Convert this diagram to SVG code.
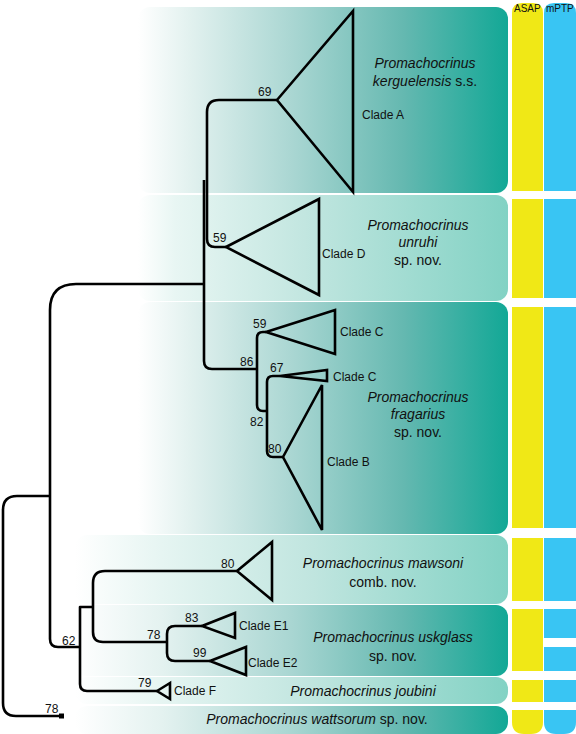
<svg xmlns="http://www.w3.org/2000/svg" width="576" height="734" viewBox="0 0 576 734">
<defs>
<linearGradient id="gDarkTop" gradientUnits="userSpaceOnUse" x1="138" y1="0" x2="508" y2="0">
<stop offset="0" stop-color="#ffffff"/>
<stop offset="0.12" stop-color="#e6f3f1"/>
<stop offset="0.42" stop-color="#a9d6d2"/>
<stop offset="0.72" stop-color="#64b8b0"/>
<stop offset="1" stop-color="#12a896"/>
</linearGradient>
<linearGradient id="gLightTop" gradientUnits="userSpaceOnUse" x1="138" y1="0" x2="508" y2="0">
<stop offset="0" stop-color="#ffffff"/>
<stop offset="0.1" stop-color="#e8f6f3"/>
<stop offset="0.45" stop-color="#c2e6e0"/>
<stop offset="1" stop-color="#82d2c4"/>
</linearGradient>
<linearGradient id="gDarkLow" gradientUnits="userSpaceOnUse" x1="75" y1="0" x2="508" y2="0">
<stop offset="0" stop-color="#ffffff"/>
<stop offset="0.2" stop-color="#e4f2f0"/>
<stop offset="0.5" stop-color="#a9d6d2"/>
<stop offset="0.76" stop-color="#64b8b0"/>
<stop offset="1" stop-color="#12a896"/>
</linearGradient>
<linearGradient id="gLightLow" gradientUnits="userSpaceOnUse" x1="75" y1="0" x2="508" y2="0">
<stop offset="0" stop-color="#ffffff"/>
<stop offset="0.2" stop-color="#e6f5f2"/>
<stop offset="0.55" stop-color="#c0e5df"/>
<stop offset="1" stop-color="#82d2c4"/>
</linearGradient>
</defs>
<style>
.sp{font-family:"Liberation Sans",Arial,sans-serif;font-size:14px;fill:#111;text-anchor:middle}
.it{font-style:italic}
.cl{font-family:"Liberation Sans",Arial,sans-serif;font-size:12px;fill:#111}
.bs{font-family:"Liberation Sans",Arial,sans-serif;font-size:12px;fill:#111}
.hd{font-family:"Liberation Sans",Arial,sans-serif;font-size:10px;fill:#111}
.br{fill:none;stroke:#000;stroke-width:2.6;stroke-linecap:butt;stroke-linejoin:round}
.tri{fill:none;stroke:#000;stroke-width:2.6;stroke-linejoin:miter}
.y{fill:#f0e816}
.b{fill:#39c5f3}
</style>

<g id="bands">
<g id="band-kerguelensis">
<rect x="138" y="7" width="370" height="186" rx="12" fill="url(#gDarkTop)"/>
<text class="sp it" x="425" y="68">Promachocrinus</text>
<text class="sp" x="425" y="86"><tspan class="it">kerguelensis</tspan> s.s.</text>
</g>
<g id="band-unruhi">
<rect x="138" y="195" width="370" height="106" rx="12" fill="url(#gLightTop)"/>
<text class="sp it" x="418" y="230">Promachocrinus</text>
<text class="sp it" x="418" y="247">unruhi</text>
<text class="sp" x="418" y="265">sp. nov.</text>
</g>
<g id="band-fragarius">
<rect x="138" y="302" width="370" height="232" rx="12" fill="url(#gDarkTop)"/>
<text class="sp it" x="418" y="402">Promachocrinus</text>
<text class="sp it" x="418" y="419">fragarius</text>
<text class="sp" x="418" y="437">sp. nov.</text>
</g>
<g id="band-mawsoni">
<rect x="75" y="535" width="433" height="69" rx="12" fill="url(#gLightLow)"/>
<text class="sp" x="383" y="568"><tspan class="it">Promachocrinus mawsoni</tspan></text>
<text class="sp" x="383" y="587">comb. nov.</text>
</g>
<g id="band-uskglass">
<rect x="75" y="605" width="433" height="71" rx="12" fill="url(#gDarkLow)"/>
<text class="sp" x="393" y="642"><tspan class="it">Promachocrinus uskglass</tspan></text>
<text class="sp" x="393" y="661">sp. nov.</text>
</g>
<g id="band-joubini">
<rect x="75" y="677" width="433" height="27" rx="12" fill="url(#gLightLow)"/>
<text class="sp it" x="363" y="696">Promachocrinus joubini</text>
</g>
<g id="band-wattsorum">
<rect x="75" y="706" width="433" height="28" rx="12" fill="url(#gDarkLow)"/>
<text class="sp" x="317" y="724"><tspan class="it">Promachocrinus wattsorum</tspan> sp. nov.</text>
</g>
</g>

<g id="delimitation">
<g id="asap">
<path class="y" d="M512 191 V13 Q512 3 522 3 H533 Q543 3 543 13 V191 Z"/>
<rect class="y" x="512" y="199" width="31" height="99"/>
<rect class="y" x="512" y="307" width="31" height="221"/>
<rect class="y" x="512" y="538" width="31" height="63"/>
<rect class="y" x="512" y="609" width="31" height="62"/>
<rect class="y" x="512" y="680" width="31" height="22"/>
<path class="y" d="M512 710 H543 V722 Q543 734 531 734 H524 Q512 734 512 722 Z"/>
<text class="hd" x="514" y="12">ASAP</text>
</g>
<g id="mptp">
<path class="b" d="M544 191 V13 Q544 3 554 3 H566 Q576 3 576 13 V191 Z"/>
<rect class="b" x="544" y="199" width="32" height="99"/>
<rect class="b" x="544" y="307" width="32" height="221"/>
<rect class="b" x="544" y="538" width="32" height="63"/>
<rect class="b" x="544" y="609" width="32" height="29"/>
<rect class="b" x="544" y="647" width="32" height="24"/>
<rect class="b" x="544" y="680" width="32" height="22"/>
<path class="b" d="M544 710 H576 V722 Q576 734 564 734 H556 Q544 734 544 722 Z"/>
<text class="hd" x="546" y="12">mPTP</text>
</g>
</g>

<g id="clades">
<g id="clade-A"><path class="tri" d="M277 100 L353 11 V192 Z"/><text class="cl" x="362" y="119">Clade A</text></g>
<g id="clade-D"><path class="tri" d="M226 247 L319 199 V295 Z"/><text class="cl" x="322" y="258">Clade D</text></g>
<g id="clade-C1"><path class="tri" d="M266 332 L335 310 V354 Z"/><text class="cl" x="340" y="336">Clade C</text></g>
<g id="clade-C2"><path class="tri" d="M280 376 L327 370 V381 Z"/><text class="cl" x="333" y="381">Clade C</text></g>
<g id="clade-B"><path class="tri" d="M283 457 L322 385 V530 Z"/><text class="cl" x="327" y="466">Clade B</text></g>
<g id="clade-mawsoni"><path class="tri" d="M237 571 L272 542 V600 Z"/></g>
<g id="clade-E1"><path class="tri" d="M202 626 L235 613 V638 Z"/><text class="cl" x="239" y="630">Clade E1</text></g>
<g id="clade-E2"><path class="tri" d="M210 661 L246 647 V675 Z"/><text class="cl" x="248" y="667">Clade E2</text></g>
<g id="clade-F"><path class="tri" d="M157 691 L170 683 V699 Z"/><text class="cl" x="174" y="695">Clade F</text></g>
<g id="tip-wattsorum"><rect x="59" y="713.5" width="5" height="5" fill="#000"/></g>
</g>

<g id="connectors">
<path class="br" d="M50 496 H17 Q3 496 3 510 V703 Q3 716 16 716 H60"/>
<path class="br" d="M204 284 H76 Q50 284 50 310 V639 Q50 647 58 647 H80"/>
<path class="br" d="M277 100 H219 Q207 100 207 112 V239 Q207 247 215 247 H226"/>
<path class="br" d="M204 180 V361 Q204 369 212 369 H257"/>
<path class="br" d="M266 332 H263 Q257 332 257 338 V405 Q257 411 263 411 H267"/>
<path class="br" d="M280 376 H273 Q267 376 267 382 V451 Q267 457 273 457 H283"/>
<path class="br" d="M93 607 H80 V684 Q80 691 87 691 H157"/>
<path class="br" d="M237 571 H105 Q93 571 93 583 V632 Q93 642 103 642 H167"/>
<path class="br" d="M202 626 H175 Q167 626 167 634 V653 Q167 661 175 661 H210"/>
</g>

<g id="support">
<text class="bs" x="258" y="96">69</text>
<text class="bs" x="213" y="242">59</text>
<text class="bs" x="240" y="366">86</text>
<text class="bs" x="253" y="328">59</text>
<text class="bs" x="270" y="372">67</text>
<text class="bs" x="250" y="426">82</text>
<text class="bs" x="268" y="453">80</text>
<text class="bs" x="221" y="568">80</text>
<text class="bs" x="62" y="645">62</text>
<text class="bs" x="147" y="639">78</text>
<text class="bs" x="185" y="622">83</text>
<text class="bs" x="193" y="657">99</text>
<text class="bs" x="138" y="687">79</text>
<text class="bs" x="45" y="713">78</text>
</g>
</svg>
